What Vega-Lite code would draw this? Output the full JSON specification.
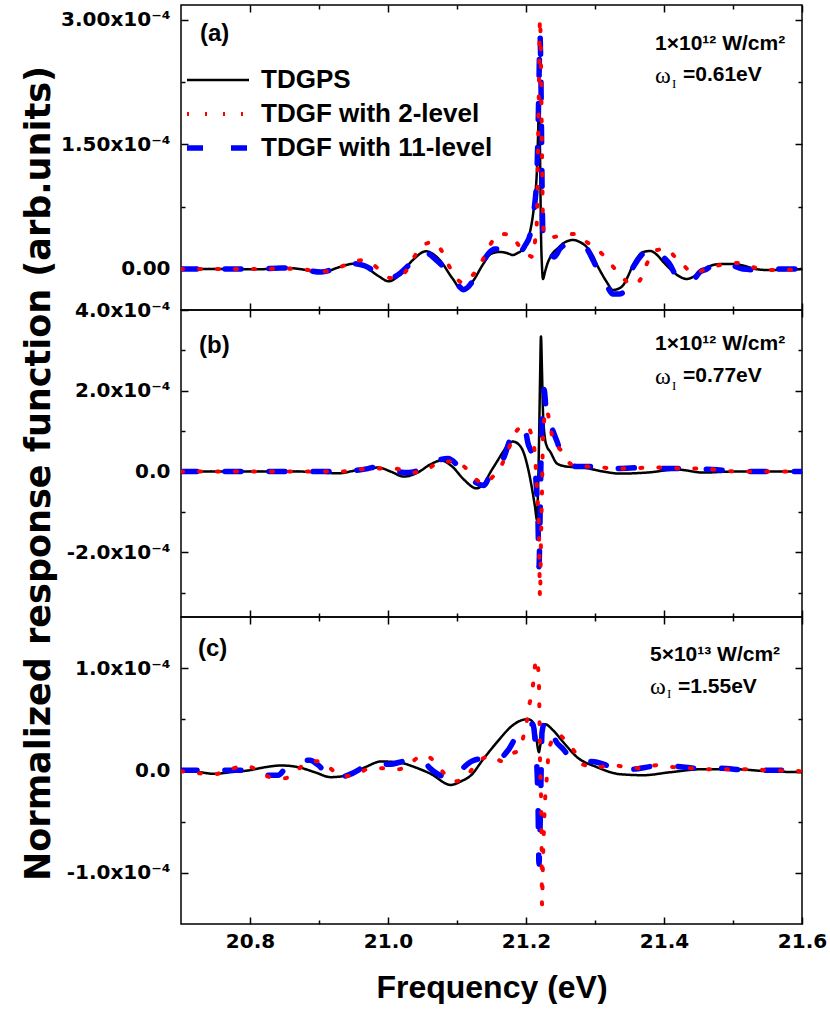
{
  "$schema": "https://vega.github.io/schema/vega-lite/v6.json",
  "background": "white",
  "padding": {"left": 20, "top": 3, "right": 0, "bottom": 0},
  "bounds": "flush",
  "spacing": 0,
  "config": {
    "view": {"stroke": "black", "strokeWidth": 1.5},
    "axis": {"domain": false, "grid": false, "tickColor": "black", "tickWidth": 1.5, "labelFont": "DejaVu Sans", "labelFontWeight": "bold", "labelFontSize": 20, "labelColor": "black", "labelFlush": false, "labelOverlap": false, "labelPadding": 18, "titleColor": "black"}
  },
  "datasets": {
    "curves": [
      {"panel":"a","series":"TDGPS","freq":20.7,"resp":0},{"panel":"a","series":"TDGPS","freq":20.7565,"resp":0},{"panel":"a","series":"TDGPS","freq":20.8145,"resp":-0.004e-4},{"panel":"a","series":"TDGPS","freq":20.845,"resp":0.016e-4},{"panel":"a","series":"TDGPS","freq":20.872,"resp":0},{"panel":"a","series":"TDGPS","freq":20.903,"resp":-0.045e-4},{"panel":"a","series":"TDGPS","freq":20.93,"resp":0.024e-4},{"panel":"a","series":"TDGPS","freq":20.951,"resp":0.064e-4},{"panel":"a","series":"TDGPS","freq":20.967,"resp":0.024e-4},{"panel":"a","series":"TDGPS","freq":20.986,"resp":-0.084e-4},{"panel":"a","series":"TDGPS","freq":21.001,"resp":-0.148e-4},{"panel":"a","series":"TDGPS","freq":21.017,"resp":-0.072e-4},{"panel":"a","series":"TDGPS","freq":21.036,"resp":0.108e-4},{"panel":"a","series":"TDGPS","freq":21.055,"resp":0.213e-4},{"panel":"a","series":"TDGPS","freq":21.075,"resp":0.108e-4},{"panel":"a","series":"TDGPS","freq":21.093,"resp":-0.108e-4},{"panel":"a","series":"TDGPS","freq":21.106,"resp":-0.237e-4},{"panel":"a","series":"TDGPS","freq":21.122,"resp":-0.157e-4},{"panel":"a","series":"TDGPS","freq":21.138,"resp":0.06e-4},{"panel":"a","series":"TDGPS","freq":21.149,"resp":0.181e-4},{"panel":"a","series":"TDGPS","freq":21.162,"resp":0.205e-4},{"panel":"a","series":"TDGPS","freq":21.172,"resp":0.193e-4},{"panel":"a","series":"TDGPS","freq":21.181,"resp":0.169e-4},{"panel":"a","series":"TDGPS","freq":21.188,"resp":0.193e-4},{"panel":"a","series":"TDGPS","freq":21.196,"resp":0.241e-4},{"panel":"a","series":"TDGPS","freq":21.203,"resp":0.349e-4},{"panel":"a","series":"TDGPS","freq":21.2058,"resp":0.446e-4},{"panel":"a","series":"TDGPS","freq":21.2101,"resp":0.651e-4},{"panel":"a","series":"TDGPS","freq":21.213,"resp":0.867e-4},{"panel":"a","series":"TDGPS","freq":21.2159,"resp":1.205e-4},{"panel":"a","series":"TDGPS","freq":21.2174,"resp":1.59e-4},{"panel":"a","series":"TDGPS","freq":21.2188,"resp":1.976e-4},{"panel":"a","series":"TDGPS","freq":21.2203,"resp":1.41e-4},{"panel":"a","series":"TDGPS","freq":21.2217,"resp":0.446e-4},{"panel":"a","series":"TDGPS","freq":21.2232,"resp":0.024e-4},{"panel":"a","series":"TDGPS","freq":21.2246,"resp":-0.12e-4},{"panel":"a","series":"TDGPS","freq":21.2275,"resp":-0.036e-4},{"panel":"a","series":"TDGPS","freq":21.2304,"resp":0.048e-4},{"panel":"a","series":"TDGPS","freq":21.238,"resp":0.181e-4},{"panel":"a","series":"TDGPS","freq":21.245,"resp":0.241e-4},{"panel":"a","series":"TDGPS","freq":21.257,"resp":0.325e-4},{"panel":"a","series":"TDGPS","freq":21.268,"resp":0.349e-4},{"panel":"a","series":"TDGPS","freq":21.278,"resp":0.325e-4},{"panel":"a","series":"TDGPS","freq":21.288,"resp":0.265e-4},{"panel":"a","series":"TDGPS","freq":21.297,"resp":0.157e-4},{"panel":"a","series":"TDGPS","freq":21.303,"resp":0.048e-4},{"panel":"a","series":"TDGPS","freq":21.31,"resp":-0.06e-4},{"panel":"a","series":"TDGPS","freq":21.317,"resp":-0.157e-4},{"panel":"a","series":"TDGPS","freq":21.326,"resp":-0.253e-4},{"panel":"a","series":"TDGPS","freq":21.333,"resp":-0.241e-4},{"panel":"a","series":"TDGPS","freq":21.341,"resp":-0.193e-4},{"panel":"a","series":"TDGPS","freq":21.348,"resp":-0.084e-4},{"panel":"a","series":"TDGPS","freq":21.355,"resp":0.048e-4},{"panel":"a","series":"TDGPS","freq":21.362,"resp":0.145e-4},{"panel":"a","series":"TDGPS","freq":21.37,"resp":0.205e-4},{"panel":"a","series":"TDGPS","freq":21.38,"resp":0.217e-4},{"panel":"a","series":"TDGPS","freq":21.39,"resp":0.169e-4},{"panel":"a","series":"TDGPS","freq":21.399,"resp":0.084e-4},{"panel":"a","series":"TDGPS","freq":21.409,"resp":0},{"panel":"a","series":"TDGPS","freq":21.419,"resp":-0.072e-4},{"panel":"a","series":"TDGPS","freq":21.433,"resp":-0.12e-4},{"panel":"a","series":"TDGPS","freq":21.442,"resp":-0.096e-4},{"panel":"a","series":"TDGPS","freq":21.452,"resp":-0.036e-4},{"panel":"a","series":"TDGPS","freq":21.471,"resp":0.048e-4},{"panel":"a","series":"TDGPS","freq":21.484,"resp":0.06e-4},{"panel":"a","series":"TDGPS","freq":21.5,"resp":0.06e-4},{"panel":"a","series":"TDGPS","freq":21.517,"resp":0.036e-4},{"panel":"a","series":"TDGPS","freq":21.532,"resp":0},{"panel":"a","series":"TDGPS","freq":21.549,"resp":-0.012e-4},{"panel":"a","series":"TDGPS","freq":21.568,"resp":-0.012e-4},{"panel":"a","series":"TDGPS","freq":21.6,"resp":0},

      {"panel":"a","series":"TDGF with 11-level","freq":20.7,"resp":0},{"panel":"a","series":"TDGF with 11-level","freq":20.757,"resp":0},{"panel":"a","series":"TDGF with 11-level","freq":20.814,"resp":0},{"panel":"a","series":"TDGF with 11-level","freq":20.845,"resp":0.012e-4},{"panel":"a","series":"TDGF with 11-level","freq":20.872,"resp":0},{"panel":"a","series":"TDGF with 11-level","freq":20.903,"resp":-0.036e-4},{"panel":"a","series":"TDGF with 11-level","freq":20.93,"resp":0.024e-4},{"panel":"a","series":"TDGF with 11-level","freq":20.951,"resp":0.064e-4},{"panel":"a","series":"TDGF with 11-level","freq":20.967,"resp":0.036e-4},{"panel":"a","series":"TDGF with 11-level","freq":20.986,"resp":-0.06e-4},{"panel":"a","series":"TDGF with 11-level","freq":21.001,"resp":-0.12e-4},{"panel":"a","series":"TDGF with 11-level","freq":21.014,"resp":-0.072e-4},{"panel":"a","series":"TDGF with 11-level","freq":21.032,"resp":0.06e-4},{"panel":"a","series":"TDGF with 11-level","freq":21.052,"resp":0.205e-4},{"panel":"a","series":"TDGF with 11-level","freq":21.07,"resp":0.108e-4},{"panel":"a","series":"TDGF with 11-level","freq":21.087,"resp":-0.036e-4},{"panel":"a","series":"TDGF with 11-level","freq":21.099,"resp":-0.169e-4},{"panel":"a","series":"TDGF with 11-level","freq":21.11,"resp":-0.249e-4},{"panel":"a","series":"TDGF with 11-level","freq":21.122,"resp":-0.157e-4},{"panel":"a","series":"TDGF with 11-level","freq":21.135,"resp":0.048e-4},{"panel":"a","series":"TDGF with 11-level","freq":21.145,"resp":0.181e-4},{"panel":"a","series":"TDGF with 11-level","freq":21.155,"resp":0.241e-4},{"panel":"a","series":"TDGF with 11-level","freq":21.174,"resp":0.241e-4},{"panel":"a","series":"TDGF with 11-level","freq":21.184,"resp":0.205e-4},{"panel":"a","series":"TDGF with 11-level","freq":21.191,"resp":0.205e-4},{"panel":"a","series":"TDGF with 11-level","freq":21.199,"resp":0.289e-4},{"panel":"a","series":"TDGF with 11-level","freq":21.2058,"resp":0.41e-4},{"panel":"a","series":"TDGF with 11-level","freq":21.2101,"resp":0.651e-4},{"panel":"a","series":"TDGF with 11-level","freq":21.213,"resp":0.807e-4},{"panel":"a","series":"TDGF with 11-level","freq":21.2159,"resp":1.169e-4},{"panel":"a","series":"TDGF with 11-level","freq":21.2174,"resp":1.651e-4},{"panel":"a","series":"TDGF with 11-level","freq":21.2188,"resp":2.253e-4},{"panel":"a","series":"TDGF with 11-level","freq":21.2203,"resp":2.819e-4},{"panel":"a","series":"TDGF with 11-level","freq":21.2217,"resp":2.253e-4},{"panel":"a","series":"TDGF with 11-level","freq":21.2232,"resp":1.048e-4},{"panel":"a","series":"TDGF with 11-level","freq":21.2246,"resp":0.386e-4},{"panel":"a","series":"TDGF with 11-level","freq":21.232,"resp":0.241e-4},{"panel":"a","series":"TDGF with 11-level","freq":21.241,"resp":0.145e-4},{"panel":"a","series":"TDGF with 11-level","freq":21.249,"resp":0.241e-4},{"panel":"a","series":"TDGF with 11-level","freq":21.261,"resp":0.301e-4},{"panel":"a","series":"TDGF with 11-level","freq":21.274,"resp":0.301e-4},{"panel":"a","series":"TDGF with 11-level","freq":21.286,"resp":0.265e-4},{"panel":"a","series":"TDGF with 11-level","freq":21.297,"resp":0.108e-4},{"panel":"a","series":"TDGF with 11-level","freq":21.304,"resp":-0.012e-4},{"panel":"a","series":"TDGF with 11-level","freq":21.312,"resp":-0.12e-4},{"panel":"a","series":"TDGF with 11-level","freq":21.319,"resp":-0.229e-4},{"panel":"a","series":"TDGF with 11-level","freq":21.326,"resp":-0.301e-4},{"panel":"a","series":"TDGF with 11-level","freq":21.335,"resp":-0.301e-4},{"panel":"a","series":"TDGF with 11-level","freq":21.343,"resp":-0.265e-4},{"panel":"a","series":"TDGF with 11-level","freq":21.354,"resp":0},{"panel":"a","series":"TDGF with 11-level","freq":21.362,"resp":0.108e-4},{"panel":"a","series":"TDGF with 11-level","freq":21.372,"resp":0.205e-4},{"panel":"a","series":"TDGF with 11-level","freq":21.38,"resp":0.229e-4},{"panel":"a","series":"TDGF with 11-level","freq":21.39,"resp":0.229e-4},{"panel":"a","series":"TDGF with 11-level","freq":21.399,"resp":0.145e-4},{"panel":"a","series":"TDGF with 11-level","freq":21.409,"resp":0.048e-4},{"panel":"a","series":"TDGF with 11-level","freq":21.416,"resp":-0.06e-4},{"panel":"a","series":"TDGF with 11-level","freq":21.425,"resp":-0.12e-4},{"panel":"a","series":"TDGF with 11-level","freq":21.435,"resp":-0.157e-4},{"panel":"a","series":"TDGF with 11-level","freq":21.445,"resp":-0.108e-4},{"panel":"a","series":"TDGF with 11-level","freq":21.452,"resp":-0.036e-4},{"panel":"a","series":"TDGF with 11-level","freq":21.462,"resp":0},{"panel":"a","series":"TDGF with 11-level","freq":21.471,"resp":0.048e-4},{"panel":"a","series":"TDGF with 11-level","freq":21.491,"resp":0.06e-4},{"panel":"a","series":"TDGF with 11-level","freq":21.514,"resp":0},{"panel":"a","series":"TDGF with 11-level","freq":21.543,"resp":-0.012e-4},{"panel":"a","series":"TDGF with 11-level","freq":21.568,"resp":0},{"panel":"a","series":"TDGF with 11-level","freq":21.6,"resp":0},

      {"panel":"a","series":"TDGF with 2-level","freq":20.7,"resp":0},{"panel":"a","series":"TDGF with 2-level","freq":20.757,"resp":0},{"panel":"a","series":"TDGF with 2-level","freq":20.814,"resp":0},{"panel":"a","series":"TDGF with 2-level","freq":20.855,"resp":0.004e-4},{"panel":"a","series":"TDGF with 2-level","freq":20.878,"resp":-0.004e-4},{"panel":"a","series":"TDGF with 2-level","freq":20.901,"resp":-0.036e-4},{"panel":"a","series":"TDGF with 2-level","freq":20.923,"resp":0},{"panel":"a","series":"TDGF with 2-level","freq":20.942,"resp":0.06e-4},{"panel":"a","series":"TDGF with 2-level","freq":20.964,"resp":0.108e-4},{"panel":"a","series":"TDGF with 2-level","freq":20.983,"resp":0.024e-4},{"panel":"a","series":"TDGF with 2-level","freq":20.994,"resp":-0.06e-4},{"panel":"a","series":"TDGF with 2-level","freq":21.003,"resp":-0.108e-4},{"panel":"a","series":"TDGF with 2-level","freq":21.019,"resp":-0.084e-4},{"panel":"a","series":"TDGF with 2-level","freq":21.03,"resp":0.024e-4},{"panel":"a","series":"TDGF with 2-level","freq":21.038,"resp":0.145e-4},{"panel":"a","series":"TDGF with 2-level","freq":21.048,"resp":0.265e-4},{"panel":"a","series":"TDGF with 2-level","freq":21.065,"resp":0.325e-4},{"panel":"a","series":"TDGF with 2-level","freq":21.077,"resp":0.229e-4},{"panel":"a","series":"TDGF with 2-level","freq":21.087,"resp":0.06e-4},{"panel":"a","series":"TDGF with 2-level","freq":21.096,"resp":-0.072e-4},{"panel":"a","series":"TDGF with 2-level","freq":21.109,"resp":-0.169e-4},{"panel":"a","series":"TDGF with 2-level","freq":21.123,"resp":-0.072e-4},{"panel":"a","series":"TDGF with 2-level","freq":21.141,"resp":0.169e-4},{"panel":"a","series":"TDGF with 2-level","freq":21.148,"resp":0.289e-4},{"panel":"a","series":"TDGF with 2-level","freq":21.162,"resp":0.422e-4},{"panel":"a","series":"TDGF with 2-level","freq":21.18,"resp":0.41e-4},{"panel":"a","series":"TDGF with 2-level","freq":21.188,"resp":0.301e-4},{"panel":"a","series":"TDGF with 2-level","freq":21.199,"resp":0.205e-4},{"panel":"a","series":"TDGF with 2-level","freq":21.2101,"resp":0.145e-4},{"panel":"a","series":"TDGF with 2-level","freq":21.213,"resp":0.325e-4},{"panel":"a","series":"TDGF with 2-level","freq":21.2159,"resp":0.602e-4},{"panel":"a","series":"TDGF with 2-level","freq":21.2174,"resp":1.41e-4},{"panel":"a","series":"TDGF with 2-level","freq":21.2188,"resp":2.253e-4},{"panel":"a","series":"TDGF with 2-level","freq":21.2203,"resp":3.012e-4},{"panel":"a","series":"TDGF with 2-level","freq":21.2217,"resp":2.494e-4},{"panel":"a","series":"TDGF with 2-level","freq":21.2232,"resp":1.41e-4},{"panel":"a","series":"TDGF with 2-level","freq":21.2246,"resp":0.602e-4},{"panel":"a","series":"TDGF with 2-level","freq":21.2261,"resp":0.41e-4},{"panel":"a","series":"TDGF with 2-level","freq":21.239,"resp":0.386e-4},{"panel":"a","series":"TDGF with 2-level","freq":21.254,"resp":0.41e-4},{"panel":"a","series":"TDGF with 2-level","freq":21.274,"resp":0.422e-4},{"panel":"a","series":"TDGF with 2-level","freq":21.288,"resp":0.325e-4},{"panel":"a","series":"TDGF with 2-level","freq":21.303,"resp":0.241e-4},{"panel":"a","series":"TDGF with 2-level","freq":21.317,"resp":0.12e-4},{"panel":"a","series":"TDGF with 2-level","freq":21.329,"resp":0},{"panel":"a","series":"TDGF with 2-level","freq":21.339,"resp":-0.096e-4},{"panel":"a","series":"TDGF with 2-level","freq":21.355,"resp":-0.193e-4},{"panel":"a","series":"TDGF with 2-level","freq":21.368,"resp":-0.096e-4},{"panel":"a","series":"TDGF with 2-level","freq":21.375,"resp":0.06e-4},{"panel":"a","series":"TDGF with 2-level","freq":21.39,"resp":0.229e-4},{"panel":"a","series":"TDGF with 2-level","freq":21.404,"resp":0.241e-4},{"panel":"a","series":"TDGF with 2-level","freq":21.416,"resp":0.145e-4},{"panel":"a","series":"TDGF with 2-level","freq":21.428,"resp":0.048e-4},{"panel":"a","series":"TDGF with 2-level","freq":21.442,"resp":-0.048e-4},{"panel":"a","series":"TDGF with 2-level","freq":21.462,"resp":0},{"panel":"a","series":"TDGF with 2-level","freq":21.481,"resp":0.048e-4},{"panel":"a","series":"TDGF with 2-level","freq":21.506,"resp":0.072e-4},{"panel":"a","series":"TDGF with 2-level","freq":21.528,"resp":0.024e-4},{"panel":"a","series":"TDGF with 2-level","freq":21.549,"resp":-0.012e-4},{"panel":"a","series":"TDGF with 2-level","freq":21.572,"resp":-0.012e-4},{"panel":"a","series":"TDGF with 2-level","freq":21.6,"resp":0},

      {"panel":"b","series":"TDGPS","freq":20.7,"resp":0},{"panel":"b","series":"TDGPS","freq":20.8,"resp":0},{"panel":"b","series":"TDGPS","freq":20.872,"resp":0},{"panel":"b","series":"TDGPS","freq":20.928,"resp":-0.042e-4},{"panel":"b","series":"TDGPS","freq":20.952,"resp":0.025e-4},{"panel":"b","series":"TDGPS","freq":20.971,"resp":0.082e-4},{"panel":"b","series":"TDGPS","freq":20.986,"resp":0.099e-4},{"panel":"b","series":"TDGPS","freq":21.004,"resp":0},{"panel":"b","series":"TDGPS","freq":21.023,"resp":-0.124e-4},{"panel":"b","series":"TDGPS","freq":21.043,"resp":-0.025e-4},{"panel":"b","series":"TDGPS","freq":21.061,"resp":0.173e-4},{"panel":"b","series":"TDGPS","freq":21.077,"resp":0.273e-4},{"panel":"b","series":"TDGPS","freq":21.093,"resp":0.124e-4},{"panel":"b","series":"TDGPS","freq":21.11,"resp":-0.198e-4},{"panel":"b","series":"TDGPS","freq":21.128,"resp":-0.414e-4},{"panel":"b","series":"TDGPS","freq":21.139,"resp":-0.297e-4},{"panel":"b","series":"TDGPS","freq":21.149,"resp":0},{"panel":"b","series":"TDGPS","freq":21.158,"resp":0.248e-4},{"panel":"b","series":"TDGPS","freq":21.167,"resp":0.496e-4},{"panel":"b","series":"TDGPS","freq":21.174,"resp":0.669e-4},{"panel":"b","series":"TDGPS","freq":21.181,"resp":0.743e-4},{"panel":"b","series":"TDGPS","freq":21.188,"resp":0.694e-4},{"panel":"b","series":"TDGPS","freq":21.196,"resp":0.496e-4},{"panel":"b","series":"TDGPS","freq":21.203,"resp":0.074e-4},{"panel":"b","series":"TDGPS","freq":21.2087,"resp":-0.421e-4},{"panel":"b","series":"TDGPS","freq":21.213,"resp":-0.867e-4},{"panel":"b","series":"TDGPS","freq":21.2159,"resp":-1.19e-4},{"panel":"b","series":"TDGPS","freq":21.2174,"resp":-0.496e-4},{"panel":"b","series":"TDGPS","freq":21.2188,"resp":0.669e-4},{"panel":"b","series":"TDGPS","freq":21.2203,"resp":2.23e-4},{"panel":"b","series":"TDGPS","freq":21.2217,"resp":3.346e-4},{"panel":"b","series":"TDGPS","freq":21.2232,"resp":2.478e-4},{"panel":"b","series":"TDGPS","freq":21.2246,"resp":1.487e-4},{"panel":"b","series":"TDGPS","freq":21.2275,"resp":0.818e-4},{"panel":"b","series":"TDGPS","freq":21.2304,"resp":0.62e-4},{"panel":"b","series":"TDGPS","freq":21.235,"resp":0.496e-4},{"panel":"b","series":"TDGPS","freq":21.245,"resp":0.198e-4},{"panel":"b","series":"TDGPS","freq":21.259,"resp":0.124e-4},{"panel":"b","series":"TDGPS","freq":21.283,"resp":0.1e-4},{"panel":"b","series":"TDGPS","freq":21.312,"resp":0},{"panel":"b","series":"TDGPS","freq":21.336,"resp":-0.05e-4},{"panel":"b","series":"TDGPS","freq":21.375,"resp":-0.025e-4},{"panel":"b","series":"TDGPS","freq":21.419,"resp":0.05e-4},{"panel":"b","series":"TDGPS","freq":21.457,"resp":-0.025e-4},{"panel":"b","series":"TDGPS","freq":21.5,"resp":0},{"panel":"b","series":"TDGPS","freq":21.6,"resp":0},

      {"panel":"b","series":"TDGF with 11-level","freq":20.7,"resp":0},{"panel":"b","series":"TDGF with 11-level","freq":20.8,"resp":0},{"panel":"b","series":"TDGF with 11-level","freq":20.872,"resp":0},{"panel":"b","series":"TDGF with 11-level","freq":20.93,"resp":0},{"panel":"b","series":"TDGF with 11-level","freq":20.971,"resp":0.074e-4},{"panel":"b","series":"TDGF with 11-level","freq":20.986,"resp":0.124e-4},{"panel":"b","series":"TDGF with 11-level","freq":21.006,"resp":0.025e-4},{"panel":"b","series":"TDGF with 11-level","freq":21.029,"resp":-0.025e-4},{"panel":"b","series":"TDGF with 11-level","freq":21.054,"resp":0.099e-4},{"panel":"b","series":"TDGF with 11-level","freq":21.072,"resp":0.273e-4},{"panel":"b","series":"TDGF with 11-level","freq":21.087,"resp":0.322e-4},{"panel":"b","series":"TDGF with 11-level","freq":21.104,"resp":0.099e-4},{"panel":"b","series":"TDGF with 11-level","freq":21.125,"resp":-0.248e-4},{"panel":"b","series":"TDGF with 11-level","freq":21.139,"resp":-0.347e-4},{"panel":"b","series":"TDGF with 11-level","freq":21.148,"resp":-0.074e-4},{"panel":"b","series":"TDGF with 11-level","freq":21.157,"resp":0.198e-4},{"panel":"b","series":"TDGF with 11-level","freq":21.167,"resp":0.322e-4},{"panel":"b","series":"TDGF with 11-level","freq":21.177,"resp":0.793e-4},{"panel":"b","series":"TDGF with 11-level","freq":21.191,"resp":1.041e-4},{"panel":"b","series":"TDGF with 11-level","freq":21.199,"resp":0.991e-4},{"panel":"b","series":"TDGF with 11-level","freq":21.203,"resp":0.694e-4},{"panel":"b","series":"TDGF with 11-level","freq":21.2101,"resp":0.322e-4},{"panel":"b","series":"TDGF with 11-level","freq":21.2145,"resp":-0.248e-4},{"panel":"b","series":"TDGF with 11-level","freq":21.2174,"resp":-1.239e-4},{"panel":"b","series":"TDGF with 11-level","freq":21.2188,"resp":-2.354e-4},{"panel":"b","series":"TDGF with 11-level","freq":21.2203,"resp":-1.239e-4},{"panel":"b","series":"TDGF with 11-level","freq":21.2217,"resp":0.248e-4},{"panel":"b","series":"TDGF with 11-level","freq":21.2232,"resp":1.239e-4},{"panel":"b","series":"TDGF with 11-level","freq":21.2261,"resp":2.032e-4},{"panel":"b","series":"TDGF with 11-level","freq":21.2304,"resp":1.314e-4},{"panel":"b","series":"TDGF with 11-level","freq":21.235,"resp":1.165e-4},{"panel":"b","series":"TDGF with 11-level","freq":21.245,"resp":0.743e-4},{"panel":"b","series":"TDGF with 11-level","freq":21.254,"resp":0.322e-4},{"panel":"b","series":"TDGF with 11-level","freq":21.274,"resp":0.124e-4},{"panel":"b","series":"TDGF with 11-level","freq":21.307,"resp":0.124e-4},{"panel":"b","series":"TDGF with 11-level","freq":21.332,"resp":0.074e-4},{"panel":"b","series":"TDGF with 11-level","freq":21.37,"resp":0.099e-4},{"panel":"b","series":"TDGF with 11-level","freq":21.394,"resp":0.074e-4},{"panel":"b","series":"TDGF with 11-level","freq":21.433,"resp":0.074e-4},{"panel":"b","series":"TDGF with 11-level","freq":21.471,"resp":0.05e-4},{"panel":"b","series":"TDGF with 11-level","freq":21.51,"resp":0},{"panel":"b","series":"TDGF with 11-level","freq":21.6,"resp":0},

      {"panel":"b","series":"TDGF with 2-level","freq":20.7,"resp":0},{"panel":"b","series":"TDGF with 2-level","freq":20.8,"resp":0},{"panel":"b","series":"TDGF with 2-level","freq":20.872,"resp":0},{"panel":"b","series":"TDGF with 2-level","freq":20.93,"resp":0},{"panel":"b","series":"TDGF with 2-level","freq":20.974,"resp":0.074e-4},{"panel":"b","series":"TDGF with 2-level","freq":21.009,"resp":0.074e-4},{"panel":"b","series":"TDGF with 2-level","freq":21.036,"resp":-0.025e-4},{"panel":"b","series":"TDGF with 2-level","freq":21.058,"resp":0.074e-4},{"panel":"b","series":"TDGF with 2-level","freq":21.077,"resp":0.248e-4},{"panel":"b","series":"TDGF with 2-level","freq":21.099,"resp":0.248e-4},{"panel":"b","series":"TDGF with 2-level","freq":21.112,"resp":0.099e-4},{"panel":"b","series":"TDGF with 2-level","freq":21.125,"resp":-0.149e-4},{"panel":"b","series":"TDGF with 2-level","freq":21.138,"resp":-0.297e-4},{"panel":"b","series":"TDGF with 2-level","freq":21.152,"resp":-0.124e-4},{"panel":"b","series":"TDGF with 2-level","freq":21.165,"resp":0.173e-4},{"panel":"b","series":"TDGF with 2-level","freq":21.172,"resp":0.446e-4},{"panel":"b","series":"TDGF with 2-level","freq":21.188,"resp":1.041e-4},{"panel":"b","series":"TDGF with 2-level","freq":21.201,"resp":1.14e-4},{"panel":"b","series":"TDGF with 2-level","freq":21.2087,"resp":0.843e-4},{"panel":"b","series":"TDGF with 2-level","freq":21.213,"resp":0.397e-4},{"panel":"b","series":"TDGF with 2-level","freq":21.2159,"resp":-0.446e-4},{"panel":"b","series":"TDGF with 2-level","freq":21.2188,"resp":-1.487e-4},{"panel":"b","series":"TDGF with 2-level","freq":21.2203,"resp":-3.098e-4},{"panel":"b","series":"TDGF with 2-level","freq":21.2217,"resp":-1.735e-4},{"panel":"b","series":"TDGF with 2-level","freq":21.2232,"resp":-0.496e-4},{"panel":"b","series":"TDGF with 2-level","freq":21.2246,"resp":0.818e-4},{"panel":"b","series":"TDGF with 2-level","freq":21.229,"resp":1.537e-4},{"panel":"b","series":"TDGF with 2-level","freq":21.239,"resp":0.818e-4},{"panel":"b","series":"TDGF with 2-level","freq":21.252,"resp":0.496e-4},{"panel":"b","series":"TDGF with 2-level","freq":21.261,"resp":0.248e-4},{"panel":"b","series":"TDGF with 2-level","freq":21.274,"resp":0.124e-4},{"panel":"b","series":"TDGF with 2-level","freq":21.3,"resp":0.124e-4},{"panel":"b","series":"TDGF with 2-level","freq":21.326,"resp":0.074e-4},{"panel":"b","series":"TDGF with 2-level","freq":21.351,"resp":0.074e-4},{"panel":"b","series":"TDGF with 2-level","freq":21.375,"resp":0.099e-4},{"panel":"b","series":"TDGF with 2-level","freq":21.401,"resp":0.099e-4},{"panel":"b","series":"TDGF with 2-level","freq":21.428,"resp":0.074e-4},{"panel":"b","series":"TDGF with 2-level","freq":21.452,"resp":0.074e-4},{"panel":"b","series":"TDGF with 2-level","freq":21.51,"resp":0},{"panel":"b","series":"TDGF with 2-level","freq":21.6,"resp":0},

      {"panel":"c","series":"TDGPS","freq":20.7,"resp":0.01e-4},{"panel":"c","series":"TDGPS","freq":20.728,"resp":-0.017e-4},{"panel":"c","series":"TDGPS","freq":20.748,"resp":-0.033e-4},{"panel":"c","series":"TDGPS","freq":20.771,"resp":-0.017e-4},{"panel":"c","series":"TDGPS","freq":20.797,"resp":0},{"panel":"c","series":"TDGPS","freq":20.822,"resp":0.032e-4},{"panel":"c","series":"TDGPS","freq":20.845,"resp":0.049e-4},{"panel":"c","series":"TDGPS","freq":20.87,"resp":0.032e-4},{"panel":"c","series":"TDGPS","freq":20.894,"resp":-0.017e-4},{"panel":"c","series":"TDGPS","freq":20.917,"resp":-0.065e-4},{"panel":"c","series":"TDGPS","freq":20.942,"resp":-0.046e-4},{"panel":"c","series":"TDGPS","freq":20.967,"resp":0.032e-4},{"panel":"c","series":"TDGPS","freq":20.99,"resp":0.088e-4},{"panel":"c","series":"TDGPS","freq":21.014,"resp":0.081e-4},{"panel":"c","series":"TDGPS","freq":21.039,"resp":0.032e-4},{"panel":"c","series":"TDGPS","freq":21.062,"resp":-0.033e-4},{"panel":"c","series":"TDGPS","freq":21.091,"resp":-0.141e-4},{"panel":"c","series":"TDGPS","freq":21.106,"resp":-0.105e-4},{"panel":"c","series":"TDGPS","freq":21.12,"resp":-0.049e-4},{"panel":"c","series":"TDGPS","freq":21.138,"resp":0.11e-4},{"panel":"c","series":"TDGPS","freq":21.158,"resp":0.277e-4},{"panel":"c","series":"TDGPS","freq":21.181,"resp":0.443e-4},{"panel":"c","series":"TDGPS","freq":21.194,"resp":0.492e-4},{"panel":"c","series":"TDGPS","freq":21.203,"resp":0.501e-4},{"panel":"c","series":"TDGPS","freq":21.2101,"resp":0.472e-4},{"panel":"c","series":"TDGPS","freq":21.2145,"resp":0.345e-4},{"panel":"c","series":"TDGPS","freq":21.2174,"resp":0.208e-4},{"panel":"c","series":"TDGPS","freq":21.2188,"resp":0.179e-4},{"panel":"c","series":"TDGPS","freq":21.2203,"resp":0.228e-4},{"panel":"c","series":"TDGPS","freq":21.2232,"resp":0.345e-4},{"panel":"c","series":"TDGPS","freq":21.2275,"resp":0.453e-4},{"panel":"c","series":"TDGPS","freq":21.239,"resp":0.394e-4},{"panel":"c","series":"TDGPS","freq":21.254,"resp":0.277e-4},{"panel":"c","series":"TDGPS","freq":21.274,"resp":0.13e-4},{"panel":"c","series":"TDGPS","freq":21.303,"resp":0.032e-4},{"panel":"c","series":"TDGPS","freq":21.336,"resp":-0.036e-4},{"panel":"c","series":"TDGPS","freq":21.37,"resp":-0.046e-4},{"panel":"c","series":"TDGPS","freq":21.409,"resp":-0.017e-4},{"panel":"c","series":"TDGPS","freq":21.457,"resp":0.013e-4},{"panel":"c","series":"TDGPS","freq":21.5,"resp":0.013e-4},{"panel":"c","series":"TDGPS","freq":21.549,"resp":-0.007e-4},{"panel":"c","series":"TDGPS","freq":21.6,"resp":-0.017e-4},

      {"panel":"c","series":"TDGF with 11-level","freq":20.7,"resp":0.003e-4},{"panel":"c","series":"TDGF with 11-level","freq":20.729,"resp":0.003e-4},{"panel":"c","series":"TDGF with 11-level","freq":20.745,"resp":-0.007e-4},{"panel":"c","series":"TDGF with 11-level","freq":20.762,"resp":0.003e-4},{"panel":"c","series":"TDGF with 11-level","freq":20.79,"resp":0.003e-4},{"panel":"c","series":"TDGF with 11-level","freq":20.803,"resp":-0.026e-4},{"panel":"c","series":"TDGF with 11-level","freq":20.816,"resp":-0.046e-4},{"panel":"c","series":"TDGF with 11-level","freq":20.841,"resp":-0.046e-4},{"panel":"c","series":"TDGF with 11-level","freq":20.849,"resp":0.003e-4},{"panel":"c","series":"TDGF with 11-level","freq":20.855,"resp":0.032e-4},{"panel":"c","series":"TDGF with 11-level","freq":20.877,"resp":0.101e-4},{"panel":"c","series":"TDGF with 11-level","freq":20.887,"resp":0.101e-4},{"panel":"c","series":"TDGF with 11-level","freq":20.899,"resp":0.052e-4},{"panel":"c","series":"TDGF with 11-level","freq":20.914,"resp":-0.046e-4},{"panel":"c","series":"TDGF with 11-level","freq":20.928,"resp":-0.065e-4},{"panel":"c","series":"TDGF with 11-level","freq":20.942,"resp":-0.046e-4},{"panel":"c","series":"TDGF with 11-level","freq":20.957,"resp":0.003e-4},{"panel":"c","series":"TDGF with 11-level","freq":20.967,"resp":0.052e-4},{"panel":"c","series":"TDGF with 11-level","freq":20.975,"resp":0.062e-4},{"panel":"c","series":"TDGF with 11-level","freq":21.004,"resp":0.062e-4},{"panel":"c","series":"TDGF with 11-level","freq":21.017,"resp":0.081e-4},{"panel":"c","series":"TDGF with 11-level","freq":21.03,"resp":0.101e-4},{"panel":"c","series":"TDGF with 11-level","freq":21.052,"resp":0.081e-4},{"panel":"c","series":"TDGF with 11-level","freq":21.061,"resp":0.022e-4},{"panel":"c","series":"TDGF with 11-level","freq":21.07,"resp":-0.026e-4},{"panel":"c","series":"TDGF with 11-level","freq":21.094,"resp":-0.075e-4},{"panel":"c","series":"TDGF with 11-level","freq":21.101,"resp":-0.036e-4},{"panel":"c","series":"TDGF with 11-level","freq":21.11,"resp":0.032e-4},{"panel":"c","series":"TDGF with 11-level","freq":21.132,"resp":0.11e-4},{"panel":"c","series":"TDGF with 11-level","freq":21.148,"resp":0.11e-4},{"panel":"c","series":"TDGF with 11-level","freq":21.159,"resp":0.11e-4},{"panel":"c","series":"TDGF with 11-level","freq":21.174,"resp":0.198e-4},{"panel":"c","series":"TDGF with 11-level","freq":21.187,"resp":0.345e-4},{"panel":"c","series":"TDGF with 11-level","freq":21.201,"resp":0.453e-4},{"panel":"c","series":"TDGF with 11-level","freq":21.2101,"resp":0.453e-4},{"panel":"c","series":"TDGF with 11-level","freq":21.213,"resp":0.306e-4},{"panel":"c","series":"TDGF with 11-level","freq":21.2159,"resp":0.013e-4},{"panel":"c","series":"TDGF with 11-level","freq":21.2174,"resp":-0.31e-4},{"panel":"c","series":"TDGF with 11-level","freq":21.2188,"resp":-0.916e-4},{"panel":"c","series":"TDGF with 11-level","freq":21.2203,"resp":-0.601e-4},{"panel":"c","series":"TDGF with 11-level","freq":21.2217,"resp":-0.114e-4},{"panel":"c","series":"TDGF with 11-level","freq":21.2232,"resp":0.374e-4},{"panel":"c","series":"TDGF with 11-level","freq":21.2275,"resp":0.472e-4},{"panel":"c","series":"TDGF with 11-level","freq":21.2348,"resp":0.472e-4},{"panel":"c","series":"TDGF with 11-level","freq":21.242,"resp":0.306e-4},{"panel":"c","series":"TDGF with 11-level","freq":21.254,"resp":0.208e-4},{"panel":"c","series":"TDGF with 11-level","freq":21.264,"resp":0.13e-4},{"panel":"c","series":"TDGF with 11-level","freq":21.275,"resp":0.101e-4},{"panel":"c","series":"TDGF with 11-level","freq":21.303,"resp":0.081e-4},{"panel":"c","series":"TDGF with 11-level","freq":21.326,"resp":0.032e-4},{"panel":"c","series":"TDGF with 11-level","freq":21.354,"resp":0.013e-4},{"panel":"c","series":"TDGF with 11-level","freq":21.387,"resp":0.042e-4},{"panel":"c","series":"TDGF with 11-level","freq":21.413,"resp":0.042e-4},{"panel":"c","series":"TDGF with 11-level","freq":21.448,"resp":0.022e-4},{"panel":"c","series":"TDGF with 11-level","freq":21.477,"resp":0.022e-4},{"panel":"c","series":"TDGF with 11-level","freq":21.525,"resp":0.003e-4},{"panel":"c","series":"TDGF with 11-level","freq":21.6,"resp":0.003e-4},

      {"panel":"c","series":"TDGF with 2-level","freq":20.7,"resp":-0.007e-4},{"panel":"c","series":"TDGF with 2-level","freq":20.725,"resp":-0.026e-4},{"panel":"c","series":"TDGF with 2-level","freq":20.749,"resp":-0.036e-4},{"panel":"c","series":"TDGF with 2-level","freq":20.771,"resp":0.013e-4},{"panel":"c","series":"TDGF with 2-level","freq":20.794,"resp":0.042e-4},{"panel":"c","series":"TDGF with 2-level","freq":20.812,"resp":0.003e-4},{"panel":"c","series":"TDGF with 2-level","freq":20.829,"resp":-0.065e-4},{"panel":"c","series":"TDGF with 2-level","freq":20.851,"resp":-0.075e-4},{"panel":"c","series":"TDGF with 2-level","freq":20.867,"resp":-0.007e-4},{"panel":"c","series":"TDGF with 2-level","freq":20.881,"resp":0.071e-4},{"panel":"c","series":"TDGF with 2-level","freq":20.901,"resp":0.091e-4},{"panel":"c","series":"TDGF with 2-level","freq":20.916,"resp":0.022e-4},{"panel":"c","series":"TDGF with 2-level","freq":20.933,"resp":-0.056e-4},{"panel":"c","series":"TDGF with 2-level","freq":20.952,"resp":-0.046e-4},{"panel":"c","series":"TDGF with 2-level","freq":20.97,"resp":0.013e-4},{"panel":"c","series":"TDGF with 2-level","freq":20.991,"resp":0.022e-4},{"panel":"c","series":"TDGF with 2-level","freq":21.016,"resp":0.013e-4},{"panel":"c","series":"TDGF with 2-level","freq":21.032,"resp":0.071e-4},{"panel":"c","series":"TDGF with 2-level","freq":21.051,"resp":0.15e-4},{"panel":"c","series":"TDGF with 2-level","freq":21.07,"resp":0.071e-4},{"panel":"c","series":"TDGF with 2-level","freq":21.081,"resp":-0.026e-4},{"panel":"c","series":"TDGF with 2-level","freq":21.096,"resp":-0.105e-4},{"panel":"c","series":"TDGF with 2-level","freq":21.11,"resp":-0.085e-4},{"panel":"c","series":"TDGF with 2-level","freq":21.122,"resp":0.013e-4},{"panel":"c","series":"TDGF with 2-level","freq":21.135,"resp":0.11e-4},{"panel":"c","series":"TDGF with 2-level","freq":21.151,"resp":0.14e-4},{"panel":"c","series":"TDGF with 2-level","freq":21.165,"resp":0.091e-4},{"panel":"c","series":"TDGF with 2-level","freq":21.181,"resp":0.169e-4},{"panel":"c","series":"TDGF with 2-level","freq":21.19,"resp":0.198e-4},{"panel":"c","series":"TDGF with 2-level","freq":21.196,"resp":0.325e-4},{"panel":"c","series":"TDGF with 2-level","freq":21.201,"resp":0.472e-4},{"panel":"c","series":"TDGF with 2-level","freq":21.204,"resp":0.619e-4},{"panel":"c","series":"TDGF with 2-level","freq":21.2087,"resp":0.756e-4},{"panel":"c","series":"TDGF with 2-level","freq":21.2116,"resp":0.922e-4},{"panel":"c","series":"TDGF with 2-level","freq":21.2145,"resp":1.088e-4},{"panel":"c","series":"TDGF with 2-level","freq":21.2174,"resp":1.01e-4},{"panel":"c","series":"TDGF with 2-level","freq":21.2188,"resp":0.834e-4},{"panel":"c","series":"TDGF with 2-level","freq":21.2196,"resp":0.472e-4},{"panel":"c","series":"TDGF with 2-level","freq":21.2203,"resp":0.11e-4},{"panel":"c","series":"TDGF with 2-level","freq":21.2217,"resp":-0.212e-4},{"panel":"c","series":"TDGF with 2-level","freq":21.2225,"resp":-0.603e-4},{"panel":"c","series":"TDGF with 2-level","freq":21.2232,"resp":-1.307e-4},{"panel":"c","series":"TDGF with 2-level","freq":21.2246,"resp":-0.896e-4},{"panel":"c","series":"TDGF with 2-level","freq":21.2275,"resp":-0.31e-4},{"panel":"c","series":"TDGF with 2-level","freq":21.2304,"resp":-0.046e-4},{"panel":"c","series":"TDGF with 2-level","freq":21.2319,"resp":0.11e-4},{"panel":"c","series":"TDGF with 2-level","freq":21.2348,"resp":0.247e-4},{"panel":"c","series":"TDGF with 2-level","freq":21.246,"resp":0.355e-4},{"panel":"c","series":"TDGF with 2-level","freq":21.259,"resp":0.277e-4},{"panel":"c","series":"TDGF with 2-level","freq":21.271,"resp":0.179e-4},{"panel":"c","series":"TDGF with 2-level","freq":21.281,"resp":0.062e-4},{"panel":"c","series":"TDGF with 2-level","freq":21.303,"resp":0.032e-4},{"panel":"c","series":"TDGF with 2-level","freq":21.325,"resp":0.052e-4},{"panel":"c","series":"TDGF with 2-level","freq":21.346,"resp":0.032e-4},{"panel":"c","series":"TDGF with 2-level","freq":21.367,"resp":0.022e-4},{"panel":"c","series":"TDGF with 2-level","freq":21.39,"resp":0.052e-4},{"panel":"c","series":"TDGF with 2-level","freq":21.416,"resp":0.032e-4},{"panel":"c","series":"TDGF with 2-level","freq":21.441,"resp":0.022e-4},{"panel":"c","series":"TDGF with 2-level","freq":21.464,"resp":0.013e-4},{"panel":"c","series":"TDGF with 2-level","freq":21.51,"resp":0.013e-4},{"panel":"c","series":"TDGF with 2-level","freq":21.554,"resp":0.003e-4},{"panel":"c","series":"TDGF with 2-level","freq":21.6,"resp":-0.007e-4}
    ],
    "notes": [
      {"panel":"a","kind":"tag","x":20.7275,"y":2.83e-4,"text":"(a)"},
      {"panel":"a","kind":"bold","x":21.387,"y":2.71e-4,"text":"1×10¹² W/cm²"},
      {"panel":"a","kind":"omega","x":21.387,"y":2.325e-4,"text":"ω"},
      {"panel":"a","kind":"sub","x":21.4116,"y":2.229e-4,"text":"I"},
      {"panel":"a","kind":"bold","x":21.4275,"y":2.337e-4,"text":"=0.61eV"},
      {"panel":"b","kind":"tag","x":20.7261,"y":3.12e-4,"text":"(b)"},
      {"panel":"b","kind":"bold","x":21.387,"y":3.147e-4,"text":"1×10¹² W/cm²"},
      {"panel":"b","kind":"omega","x":21.387,"y":2.33e-4,"text":"ω"},
      {"panel":"b","kind":"sub","x":21.4116,"y":2.107e-4,"text":"I"},
      {"panel":"b","kind":"bold","x":21.4275,"y":2.354e-4,"text":"=0.77eV"},
      {"panel":"c","kind":"tag","x":20.7246,"y":1.186e-4,"text":"(c)"},
      {"panel":"c","kind":"bold","x":21.3797,"y":1.127e-4,"text":"5×10¹³ W/cm²"},
      {"panel":"c","kind":"omega","x":21.3797,"y":0.814e-4,"text":"ω"},
      {"panel":"c","kind":"sub","x":21.4043,"y":0.746e-4,"text":"I"},
      {"panel":"c","kind":"bold","x":21.4203,"y":0.814e-4,"text":"=1.55eV"}
    ]
  },
  "resolve": {"scale": {"y": "independent"}, "legend": {"color": "independent", "strokeDash": "independent", "strokeWidth": "independent"}},
  "vconcat": [
    {
      "width": 621, "height": 305,
      "resolve": {"axis": {"x": "independent", "y": "independent"}},
      "layer": [
        {
          "data": {"name": "curves"},
          "transform": [{"filter": "datum.panel == 'a'"}],
          "mark": {"type": "line", "interpolate": "monotone", "strokeCap": "round", "strokeJoin": "round", "clip": true},
          "encoding": {
            "x": {"field": "freq", "type": "quantitative", "scale": {"domain": [20.7, 21.6], "nice": false, "zero": false},
                  "axis": {"orient": "bottom", "values": [20.8, 20.9, 21.0, 21.1, 21.2, 21.3, 21.4, 21.5, 21.6], "labels": false, "title": null, "tickSize": {"condition": {"test": "round(datum.value*10) % 2 == 1", "value": -4}, "value": -7}}},
            "y": {"field": "resp", "type": "quantitative", "scale": {"domain": [-4.94e-5, 3.18e-4], "nice": false, "zero": false},
                  "axis": {"orient": "left", "values": [0, 7.5e-5, 1.5e-4, 2.25e-4, 3e-4], "title": null, "labelExpr": "datum.value == 0 ? '0.00' : (round(datum.value/7.5e-5) % 2 != 0 ? '' : format(datum.value*1e4, '.2f') + 'x10⁻⁴')", "tickSize": {"condition": {"test": "round(datum.value/7.5e-5) % 2 != 0", "value": -4}, "value": -7}}},
            "color": {"field": "series", "type": "nominal", "scale": {"domain": ["TDGPS", "TDGF with 2-level", "TDGF with 11-level"], "range": ["#000000", "#ff0000", "#0000ff"]},
                      "legend": {"title": null, "orient": "none", "legendX": 3, "legendY": 58, "symbolType": "stroke", "symbolSize": 3844, "labelFont": "Liberation Sans", "labelFontWeight": "bold", "labelFontSize": 26, "labelColor": "black", "labelOffset": 9, "rowPadding": 0, "clipHeight": 34, "padding": 0, "labelLimit": 400}},
            "strokeDash": {"field": "series", "type": "nominal", "scale": {"domain": ["TDGPS", "TDGF with 2-level", "TDGF with 11-level"], "range": [[1, 0], [2, 16], [16, 28]]}},
            "strokeWidth": {"field": "series", "type": "nominal", "scale": {"type": "ordinal", "domain": ["TDGPS", "TDGF with 2-level", "TDGF with 11-level"], "range": [2.5, 4, 5.5]}}
          }
        },
        {
          "data": {"name": "curves"},
          "transform": [{"filter": "datum.panel == 'a'"}],
          "mark": {"type": "point", "opacity": 0},
          "encoding": {
            "x": {"field": "freq", "type": "quantitative", "scale": {"domain": [20.7, 21.6], "nice": false, "zero": false},
                  "axis": {"orient": "top", "values": [20.8, 20.9, 21.0, 21.1, 21.2, 21.3, 21.4, 21.5, 21.6], "labels": false, "title": null, "tickSize": {"condition": {"test": "round(datum.value*10) % 2 == 1", "value": -4}, "value": -7}}},
            "y": {"field": "resp", "type": "quantitative", "scale": {"domain": [-4.94e-5, 3.18e-4], "nice": false, "zero": false},
                  "axis": {"orient": "right", "values": [0, 7.5e-5, 1.5e-4, 2.25e-4, 3e-4], "labels": false, "title": null, "tickSize": {"condition": {"test": "round(datum.value/7.5e-5) % 2 != 0", "value": -4}, "value": -7}}}
          }
        },
        {
          "data": {"name": "notes"},
          "transform": [{"filter": "datum.panel == 'a' && datum.kind == 'tag'"}],
          "mark": {"type": "text", "align": "left", "baseline": "middle", "font": "Liberation Sans", "fontWeight": "bold", "fontSize": 24, "color": "black"},
          "encoding": {"x": {"field": "x", "type": "quantitative", "axis": null}, "y": {"field": "y", "type": "quantitative", "axis": null}, "text": {"field": "text"}}
        },
        {
          "data": {"name": "notes"},
          "transform": [{"filter": "datum.panel == 'a' && datum.kind == 'bold'"}],
          "mark": {"type": "text", "align": "left", "baseline": "middle", "font": "Liberation Sans", "fontWeight": "bold", "fontSize": 21, "color": "black"},
          "encoding": {"x": {"field": "x", "type": "quantitative", "axis": null}, "y": {"field": "y", "type": "quantitative", "axis": null}, "text": {"field": "text"}}
        },
        {
          "data": {"name": "notes"},
          "transform": [{"filter": "datum.panel == 'a' && datum.kind == 'omega'"}],
          "mark": {"type": "text", "align": "left", "baseline": "middle", "font": "Liberation Serif", "fontSize": 24, "color": "black"},
          "encoding": {"x": {"field": "x", "type": "quantitative", "axis": null}, "y": {"field": "y", "type": "quantitative", "axis": null}, "text": {"field": "text"}}
        },
        {
          "data": {"name": "notes"},
          "transform": [{"filter": "datum.panel == 'a' && datum.kind == 'sub'"}],
          "mark": {"type": "text", "align": "left", "baseline": "middle", "font": "Liberation Serif", "fontSize": 13, "color": "black"},
          "encoding": {"x": {"field": "x", "type": "quantitative", "axis": null}, "y": {"field": "y", "type": "quantitative", "axis": null}, "text": {"field": "text"}}
        }
      ]
    },
    {
      "width": 621, "height": 307,
      "resolve": {"axis": {"x": "independent", "y": "independent"}},
      "layer": [
        {
          "data": {"name": "curves"},
          "transform": [{"filter": "datum.panel == 'b'"}],
          "mark": {"type": "line", "interpolate": "monotone", "strokeCap": "round", "strokeJoin": "round", "clip": true},
          "encoding": {
            "x": {"field": "freq", "type": "quantitative", "scale": {"domain": [20.7, 21.6], "nice": false, "zero": false},
                  "axis": {"orient": "bottom", "values": [20.8, 20.9, 21.0, 21.1, 21.2, 21.3, 21.4, 21.5, 21.6], "labels": false, "title": null, "tickSize": {"condition": {"test": "round(datum.value*10) % 2 == 1", "value": -4}, "value": -7}}},
            "y": {"field": "resp", "type": "quantitative", "scale": {"domain": [-3.6e-4, 4.0e-4], "nice": false, "zero": false},
                  "axis": {"orient": "left", "values": [-3e-4, -2e-4, -1e-4, 0, 1e-4, 2e-4, 3e-4, 4e-4], "title": "Normalized response function (arb.units)", "titleFont": "DejaVu Sans", "titleFontSize": 35, "titleFontWeight": "bold", "titlePadding": 10, "titleY": 163, "labelExpr": "datum.value == 0 ? '0.0' : (round(datum.value/1e-4) % 2 != 0 ? '' : replace(format(datum.value*1e4, '.1f'), '−', '-') + 'x10⁻⁴')", "tickSize": {"condition": {"test": "round(datum.value/1e-4) % 2 != 0", "value": -4}, "value": -7}}},
            "color": {"field": "series", "type": "nominal", "scale": {"domain": ["TDGPS", "TDGF with 2-level", "TDGF with 11-level"], "range": ["#000000", "#ff0000", "#0000ff"]}, "legend": null},
            "strokeDash": {"field": "series", "type": "nominal", "scale": {"domain": ["TDGPS", "TDGF with 2-level", "TDGF with 11-level"], "range": [[1, 0], [2, 16], [16, 28]]}, "legend": null},
            "strokeWidth": {"field": "series", "type": "nominal", "scale": {"type": "ordinal", "domain": ["TDGPS", "TDGF with 2-level", "TDGF with 11-level"], "range": [2.5, 4, 5.5]}, "legend": null}
          }
        },
        {
          "data": {"name": "curves"},
          "transform": [{"filter": "datum.panel == 'b'"}],
          "mark": {"type": "point", "opacity": 0},
          "encoding": {
            "x": {"field": "freq", "type": "quantitative", "scale": {"domain": [20.7, 21.6], "nice": false, "zero": false},
                  "axis": {"orient": "top", "values": [20.8, 20.9, 21.0, 21.1, 21.2, 21.3, 21.4, 21.5, 21.6], "labels": false, "title": null, "tickSize": {"condition": {"test": "round(datum.value*10) % 2 == 1", "value": -4}, "value": -7}}},
            "y": {"field": "resp", "type": "quantitative", "scale": {"domain": [-3.6e-4, 4.0e-4], "nice": false, "zero": false},
                  "axis": {"orient": "right", "values": [-3e-4, -2e-4, -1e-4, 0, 1e-4, 2e-4, 3e-4], "labels": false, "title": null, "tickSize": {"condition": {"test": "round(datum.value/1e-4) % 2 != 0", "value": -4}, "value": -7}}}
          }
        },
        {
          "data": {"name": "notes"},
          "transform": [{"filter": "datum.panel == 'b' && datum.kind == 'tag'"}],
          "mark": {"type": "text", "align": "left", "baseline": "middle", "font": "Liberation Sans", "fontWeight": "bold", "fontSize": 24, "color": "black"},
          "encoding": {"x": {"field": "x", "type": "quantitative", "axis": null}, "y": {"field": "y", "type": "quantitative", "axis": null}, "text": {"field": "text"}}
        },
        {
          "data": {"name": "notes"},
          "transform": [{"filter": "datum.panel == 'b' && datum.kind == 'bold'"}],
          "mark": {"type": "text", "align": "left", "baseline": "middle", "font": "Liberation Sans", "fontWeight": "bold", "fontSize": 21, "color": "black"},
          "encoding": {"x": {"field": "x", "type": "quantitative", "axis": null}, "y": {"field": "y", "type": "quantitative", "axis": null}, "text": {"field": "text"}}
        },
        {
          "data": {"name": "notes"},
          "transform": [{"filter": "datum.panel == 'b' && datum.kind == 'omega'"}],
          "mark": {"type": "text", "align": "left", "baseline": "middle", "font": "Liberation Serif", "fontSize": 24, "color": "black"},
          "encoding": {"x": {"field": "x", "type": "quantitative", "axis": null}, "y": {"field": "y", "type": "quantitative", "axis": null}, "text": {"field": "text"}}
        },
        {
          "data": {"name": "notes"},
          "transform": [{"filter": "datum.panel == 'b' && datum.kind == 'sub'"}],
          "mark": {"type": "text", "align": "left", "baseline": "middle", "font": "Liberation Serif", "fontSize": 13, "color": "black"},
          "encoding": {"x": {"field": "x", "type": "quantitative", "axis": null}, "y": {"field": "y", "type": "quantitative", "axis": null}, "text": {"field": "text"}}
        }
      ]
    },
    {
      "width": 621, "height": 307,
      "resolve": {"axis": {"x": "independent", "y": "independent"}},
      "layer": [
        {
          "data": {"name": "curves"},
          "transform": [{"filter": "datum.panel == 'c'"}],
          "mark": {"type": "line", "interpolate": "monotone", "strokeCap": "round", "strokeJoin": "round", "clip": true},
          "encoding": {
            "x": {"field": "freq", "type": "quantitative", "scale": {"domain": [20.7, 21.6], "nice": false, "zero": false},
                  "axis": {"orient": "bottom", "values": [20.8, 20.9, 21.0, 21.1, 21.2, 21.3, 21.4, 21.5, 21.6], "labelPadding": 14, "labelExpr": "round(datum.value*10) % 2 == 1 ? '' : format(datum.value, '.1f')", "title": "Frequency (eV)", "titleFont": "Liberation Sans", "titleFontSize": 32, "titleFontWeight": "bold", "titlePadding": 18, "tickSize": {"condition": {"test": "round(datum.value*10) % 2 == 1", "value": -4}, "value": -7}}},
            "y": {"field": "resp", "type": "quantitative", "scale": {"domain": [-1.5e-4, 1.5e-4], "nice": false, "zero": false},
                  "axis": {"orient": "left", "values": [-1e-4, -5e-5, 0, 5e-5, 1e-4], "title": null, "labelExpr": "datum.value == 0 ? '0.0' : (round(datum.value/5e-5) % 2 != 0 ? '' : replace(format(datum.value*1e4, '.1f'), '−', '-') + 'x10⁻⁴')", "tickSize": {"condition": {"test": "round(datum.value/5e-5) % 2 != 0", "value": -4}, "value": -7}}},
            "color": {"field": "series", "type": "nominal", "scale": {"domain": ["TDGPS", "TDGF with 2-level", "TDGF with 11-level"], "range": ["#000000", "#ff0000", "#0000ff"]}, "legend": null},
            "strokeDash": {"field": "series", "type": "nominal", "scale": {"domain": ["TDGPS", "TDGF with 2-level", "TDGF with 11-level"], "range": [[1, 0], [2, 16], [16, 28]]}, "legend": null},
            "strokeWidth": {"field": "series", "type": "nominal", "scale": {"type": "ordinal", "domain": ["TDGPS", "TDGF with 2-level", "TDGF with 11-level"], "range": [2.5, 4, 5.5]}, "legend": null}
          }
        },
        {
          "data": {"name": "curves"},
          "transform": [{"filter": "datum.panel == 'c'"}],
          "mark": {"type": "point", "opacity": 0},
          "encoding": {
            "x": {"field": "freq", "type": "quantitative", "scale": {"domain": [20.7, 21.6], "nice": false, "zero": false},
                  "axis": {"orient": "top", "values": [20.8, 20.9, 21.0, 21.1, 21.2, 21.3, 21.4, 21.5, 21.6], "labels": false, "title": null, "tickSize": {"condition": {"test": "round(datum.value*10) % 2 == 1", "value": -4}, "value": -7}}},
            "y": {"field": "resp", "type": "quantitative", "scale": {"domain": [-1.5e-4, 1.5e-4], "nice": false, "zero": false},
                  "axis": {"orient": "right", "values": [-1e-4, -5e-5, 0, 5e-5, 1e-4], "labels": false, "title": null, "tickSize": {"condition": {"test": "round(datum.value/5e-5) % 2 != 0", "value": -4}, "value": -7}}}
          }
        },
        {
          "data": {"name": "notes"},
          "transform": [{"filter": "datum.panel == 'c' && datum.kind == 'tag'"}],
          "mark": {"type": "text", "align": "left", "baseline": "middle", "font": "Liberation Sans", "fontWeight": "bold", "fontSize": 24, "color": "black"},
          "encoding": {"x": {"field": "x", "type": "quantitative", "axis": null}, "y": {"field": "y", "type": "quantitative", "axis": null}, "text": {"field": "text"}}
        },
        {
          "data": {"name": "notes"},
          "transform": [{"filter": "datum.panel == 'c' && datum.kind == 'bold'"}],
          "mark": {"type": "text", "align": "left", "baseline": "middle", "font": "Liberation Sans", "fontWeight": "bold", "fontSize": 21, "color": "black"},
          "encoding": {"x": {"field": "x", "type": "quantitative", "axis": null}, "y": {"field": "y", "type": "quantitative", "axis": null}, "text": {"field": "text"}}
        },
        {
          "data": {"name": "notes"},
          "transform": [{"filter": "datum.panel == 'c' && datum.kind == 'omega'"}],
          "mark": {"type": "text", "align": "left", "baseline": "middle", "font": "Liberation Serif", "fontSize": 24, "color": "black"},
          "encoding": {"x": {"field": "x", "type": "quantitative", "axis": null}, "y": {"field": "y", "type": "quantitative", "axis": null}, "text": {"field": "text"}}
        },
        {
          "data": {"name": "notes"},
          "transform": [{"filter": "datum.panel == 'c' && datum.kind == 'sub'"}],
          "mark": {"type": "text", "align": "left", "baseline": "middle", "font": "Liberation Serif", "fontSize": 13, "color": "black"},
          "encoding": {"x": {"field": "x", "type": "quantitative", "axis": null}, "y": {"field": "y", "type": "quantitative", "axis": null}, "text": {"field": "text"}}
        }
      ]
    }
  ]
}
